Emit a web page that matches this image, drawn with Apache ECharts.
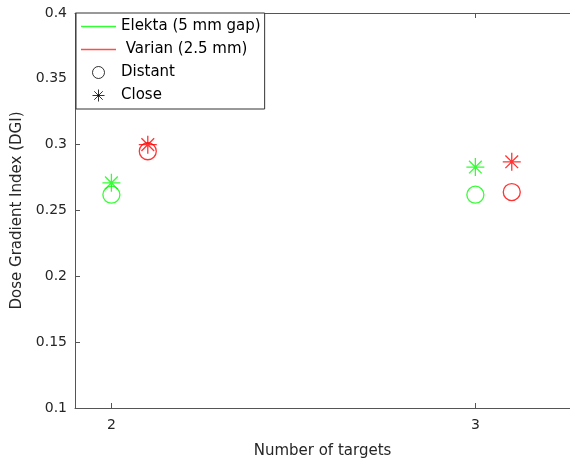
<!DOCTYPE html>
<html>
<head>
<meta charset="utf-8">
<script src="https://cdn.jsdelivr.net/npm/echarts@6/dist/echarts.min.js"></script>
<style>
  html, body { margin: 0; padding: 0; background: #fff; }
  #chart { width: 570px; height: 464px; }
</style>
</head>
<body>
<div id="chart"></div>
<script>
// Number of targets (tick values) and the x positions of each machine's points
const targetTicks = [2, 3];
const elektaX = [2, 3];
const varianX = [2.1, 3.1];

// Dose Gradient Index values
const elektaDistant = [0.262, 0.262];
const elektaClose = [0.271, 0.283];
const varianDistant = [0.295, 0.264];
const varianClose = [0.300, 0.287];

// Legend entries
const legendNames = ['Elekta (5 mm gap)', 'Varian (2.5 mm)', 'Distant', 'Close'];

const GREEN = '#00ff00';
const RED = '#ff0000';
const FONT = 'DejaVu Sans';
const AXIS = '#555555';
const TEXT = '#262626';
const STAR = 'path://M10,0V20M0,10H20M2.93,2.93L17.07,17.07M2.93,17.07L17.07,2.93';
const LINE_ICON = 'path://M0,0H35V1.4H0Z';

function pairs(xs, ys) {
  return xs.map((x, i) => [x, ys[i]]);
}

function markerSeries(name, symbol, color, size, xs, ys) {
  return {
    name: name,
    type: 'scatter',
    symbol: symbol,
    symbolSize: size,
    itemStyle: { color: 'transparent', borderColor: color, borderWidth: 1.3 },
    emphasis: { disabled: true },
    data: pairs(xs, ys),
    z: 3
  };
}

// empty series that only provide a legend entry
function keySeries(name, symbol, fill, stroke) {
  return {
    name: name,
    type: 'scatter',
    symbol: symbol,
    data: [],
    itemStyle: { color: fill, borderColor: stroke || fill, borderWidth: stroke ? 1 : 0 }
  };
}

const keyMarkerStyle = { color: 'transparent', borderColor: '#000', borderWidth: 1 };

const chart = echarts.init(document.getElementById('chart'), null, { renderer: 'canvas' });

chart.setOption({
  animation: false,
  backgroundColor: '#fff',
  textStyle: { fontFamily: FONT },
  grid: { left: 75, top: 13, width: 495, height: 395, containLabel: false },
  legend: {
    orient: 'vertical',
    left: 76,
    top: 13,
    padding: [6, 4, 6, 5],
    itemWidth: 35,
    itemHeight: 12,
    itemGap: 8,
    backgroundColor: '#fff',
    borderColor: '#333',
    borderWidth: 1,
    selectedMode: false,
    textStyle: { fontFamily: FONT, fontSize: 15, color: '#000' },
    formatter: name => (name === legendNames[1] ? ' ' + name : name),
    data: [
      { name: legendNames[0], icon: LINE_ICON,
        itemStyle: { color: GREEN, borderColor: GREEN, borderWidth: 0 } },
      { name: legendNames[1], icon: LINE_ICON,
        itemStyle: { color: RED, borderColor: RED, borderWidth: 0, opacity: 0.7 } },
      { name: legendNames[2], icon: 'circle', itemStyle: keyMarkerStyle },
      { name: legendNames[3], icon: STAR, itemStyle: keyMarkerStyle }
    ],
    z: 10
  },
  xAxis: [
    {
      type: 'value',
      min: 1.9,
      max: 3.26,
      position: 'bottom',
      name: 'Number of targets',
      nameLocation: 'middle',
      nameGap: 36,
      nameTextStyle: { fontFamily: FONT, fontSize: 15, color: TEXT },
      axisLine: { show: true, onZero: false, lineStyle: { color: AXIS, width: 1 } },
      axisTick: { show: true, inside: true, length: 5, customValues: targetTicks,
                  lineStyle: { color: AXIS } },
      axisLabel: { show: true, customValues: targetTicks, margin: 10,
                   fontFamily: FONT, fontSize: 14, color: TEXT },
      splitLine: { show: false }
    },
    {
      type: 'value',
      min: 1.9,
      max: 3.26,
      position: 'top',
      axisLine: { show: true, onZero: false, lineStyle: { color: AXIS, width: 1 } },
      axisTick: { show: true, inside: true, length: 5, customValues: targetTicks,
                  lineStyle: { color: AXIS } },
      axisLabel: { show: false },
      splitLine: { show: false }
    }
  ],
  yAxis: {
    type: 'value',
    min: 0.1,
    max: 0.4,
    interval: 0.05,
    name: 'Dose Gradient Index (DGI)',
    nameLocation: 'middle',
    nameGap: 40,
    nameTextStyle: { fontFamily: FONT, fontSize: 15, color: TEXT },
    axisLine: { show: true, onZero: false, lineStyle: { color: AXIS, width: 1 } },
    axisTick: { show: true, inside: true, length: 5, lineStyle: { color: AXIS } },
    axisLabel: { margin: 8, fontFamily: FONT, fontSize: 14, color: TEXT,
                 formatter: v => String(+v.toFixed(2)) },
    splitLine: { show: false }
  },
  series: [
    keySeries(legendNames[0], LINE_ICON, GREEN, null),
    keySeries(legendNames[1], LINE_ICON, RED, null),
    keySeries(legendNames[2], 'circle', 'transparent', '#000'),
    keySeries(legendNames[3], STAR, 'transparent', '#000'),
    // measured points
    markerSeries('Elekta distant', 'circle', GREEN, 17, elektaX, elektaDistant),
    markerSeries('Elekta close', STAR, GREEN, 18, elektaX, elektaClose),
    markerSeries('Varian distant', 'circle', RED, 17, varianX, varianDistant),
    markerSeries('Varian close', STAR, RED, 18, varianX, varianClose)
  ]
});
</script>
</body>
</html>
